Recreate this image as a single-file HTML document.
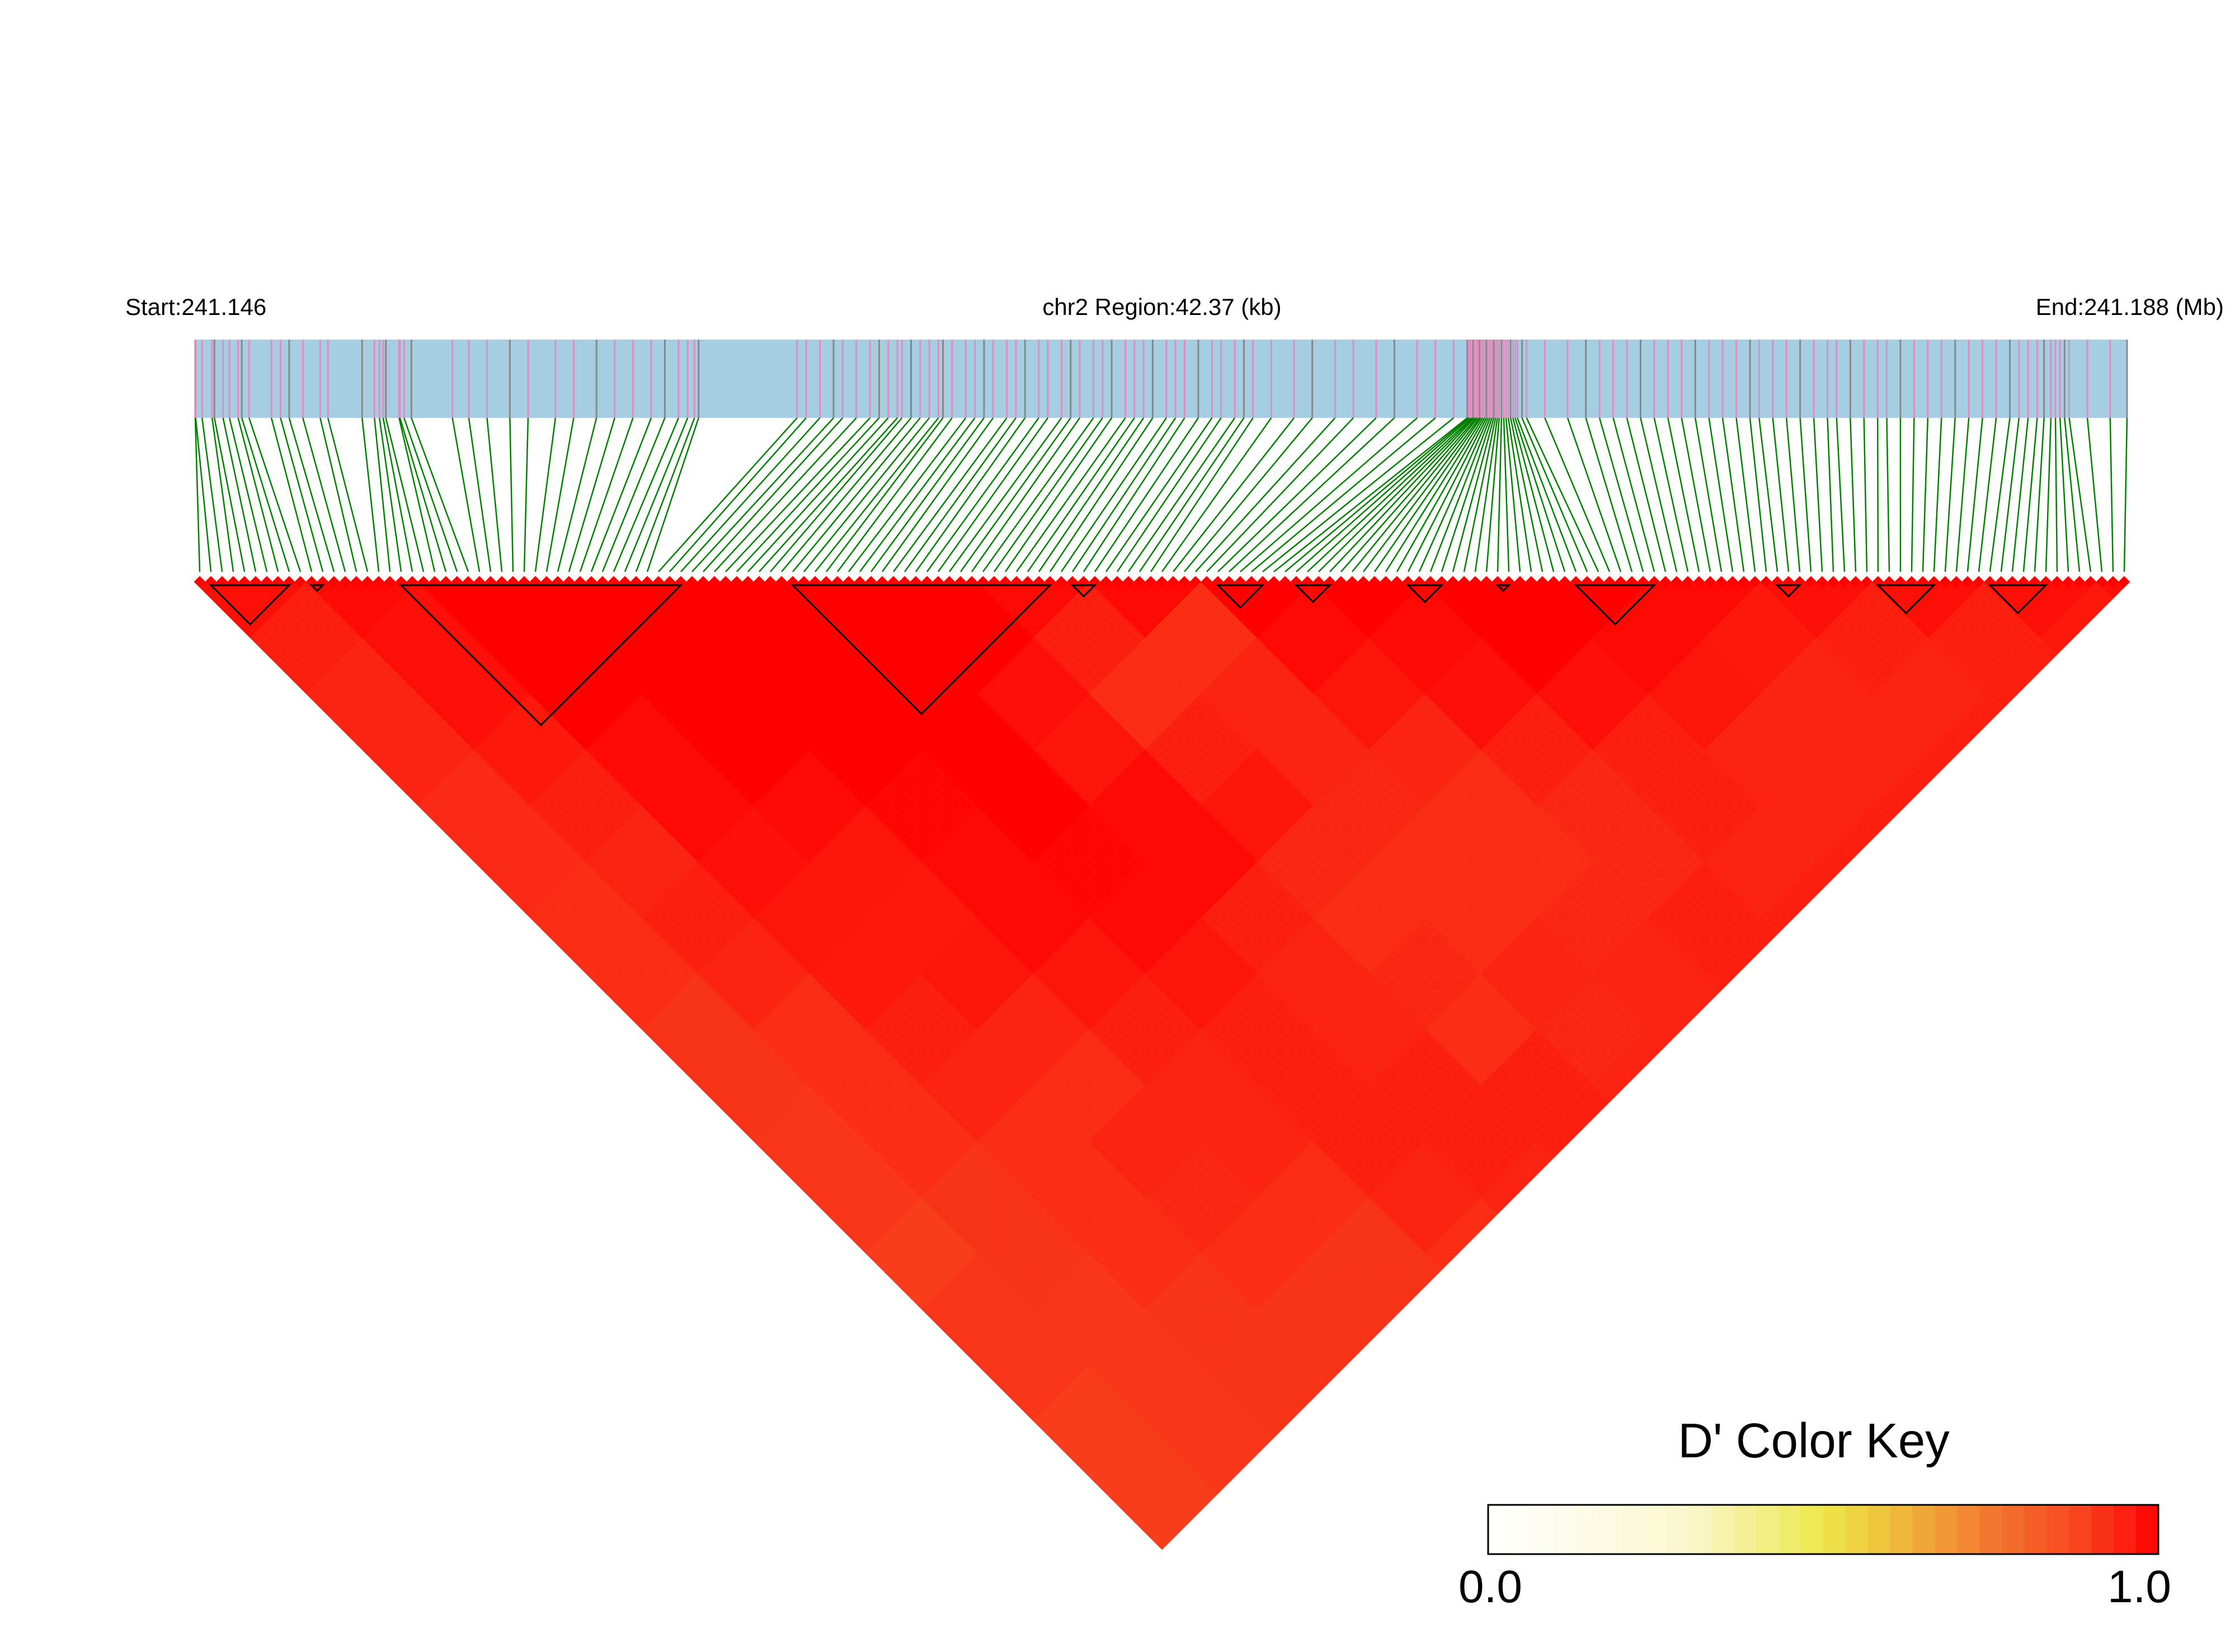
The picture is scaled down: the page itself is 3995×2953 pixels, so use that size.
<!DOCTYPE html>
<html><head><meta charset="utf-8"><style>html,body{margin:0;padding:0;background:#fff}svg{display:block}</style></head>
<body>
<svg id="chart" xmlns="http://www.w3.org/2000/svg" width="3995" height="2953" viewBox="0 0 3995 2953" font-family="Liberation Sans, Arial, sans-serif">
<rect width="3995" height="2953" fill="#fff"/>
<text x="224" y="563" font-size="42">Start:241.146</text>
<text x="2077" y="563" font-size="42" text-anchor="middle">chr2 Region:42.37 (kb)</text>
<text x="3975" y="563" font-size="42" text-anchor="end">End:241.188 (Mb)</text>
<rect x="349" y="607" width="3453" height="140" fill="#a6cee3"/>
<g id="ticks"></g>
<g id="links"></g>
<g id="cells"></g>
<g id="blocks"></g>
<text x="3242" y="2605" font-size="87" text-anchor="middle">D' Color Key</text>
<g id="key"></g>
<rect x="2660" y="2690" width="1198" height="88" fill="none" stroke="#000" stroke-width="3"/>
<text x="2607" y="2864" font-size="82">0.0</text>
<text x="3881" y="2864" font-size="82" text-anchor="end">1.0</text>
</svg>
<script>
// SNP positions (kb from region start)
const snpKb = [0,0.01,0.15,0.37,0.42,0.61,0.75,0.94,1.02,1.18,1.67,1.87,2.06,2.36,2.74,2.91,3.66,3.93,4.04,4.12,4.18,4.47,4.49,4.58,4.74,5.64,
6.0,6.4,6.9,7.3,7.9,8.3,8.8,9.2,9.6,10.0,10.3,10.6,10.8,10.95,11.04,
13.2,13.4,13.7,14.0,14.2,14.5,14.8,15.0,15.2,15.4,15.5,15.7,15.9,16.1,16.3,16.4,16.6,16.9,17.1,17.3,17.5,17.8,18.0,18.2,18.5,18.7,19.0,19.2,19.4,19.7,19.9,20.1,20.4,20.6,20.8,21.0,21.3,21.5,21.7,22.0,22.3,22.5,22.8,23.0,23.2,
23.6,24.1,24.5,25.0,25.4,25.9,26.3,26.8,27.2,27.6,
27.90,27.93,27.96,28.0,28.03,28.06,28.1,28.13,28.17,28.2,28.24,28.28,28.32,28.36,28.4,28.44,28.48,28.52,28.56,28.6,28.65,28.7,28.75,28.8,28.85,28.9,28.95,29.0,29.1,29.2,
29.6,30.1,30.5,30.8,31.1,31.4,31.7,32.0,32.3,32.6,32.9,33.2,33.5,33.8,34.1,34.3,34.6,34.9,35.2,35.5,35.8,36.0,36.3,36.6,36.9,37.1,37.4,37.7,38.0,38.3,38.6,38.9,39.2,39.5,39.8,40.0,40.2,40.4,40.55,40.7,40.8,40.9,41.0,41.1,41.5,42.0,42.37];
const regionKb = 42.37;
// Mean D' per group of 10 SNPs: dprimeBlocks[a][d] = group a vs group a+d
const dprimeBlocks = [
[.975,.95,.94,.94,.93,.93,.925,.925,.915,.915,.91,.91,.9,.91,.91,.9,.9,.9],
[.985,.975,.975,.96,.95,.94,.95,.94,.925,.925,.925,.915,.915,.91,.91,.91,.91],
[1,1,1,.985,.985,.975,.965,.96,.95,.94,.925,.925,.925,.915,.915,.915],
[1,1,1,1,.985,.965,.96,.965,.94,.925,.94,.935,.925,.915,.915],
[1,1,1,1,.99,.985,.985,.965,.95,.94,.94,.925,.915,.915],
[1,1,1,1,1,.99,.985,.965,.95,.95,.95,.94,.925],
[1,1,.975,.965,.985,.985,.95,.94,.94,.95,.95,.94],
[.985,.95,.925,.95,.965,.935,.925,.935,.925,.95,.95],
[.985,.925,.94,.94,.935,.925,.925,.94,.935,.94],
[1,.985,.965,.94,.925,.925,.935,.94,.94],
[1,.985,.975,.95,.935,.935,.95,.95],
[1,1,.975,.95,.95,.94,.95],
[1,.985,.965,.94,.94,.95],
[.985,.96,.94,.94,.95],
[.975,.95,.94,.95],
[.975,.95,.95],
[.975,.96],
[.975]];
// Haplotype blocks (first, last SNP index)
const blockStarts = [1,10,18,53,78,91,98,108,116,123,141,150,160];
const blockEnds   = [8,11,43,76,80,95,101,111,117,130,143,155,165];

const NS='http://www.w3.org/2000/svg';
const N = snpKb.length;
const barX0=349, barW=3453, barY0=607, barY1=747;
const triX0=347, triW=3460, triY0=1040;
const c = triW/N;
const xKb = k => barX0 + k/regionKb*barW;
const cellX = (i,j) => triX0 + (i+j+1)*c/2;
const cellY = (i,j) => triY0 + (j-i)*c/2;
function color(v){
  const stops=[[0,[255,255,255]],[0.3,[250,246,205]],[0.5,[237,232,74]],[0.6,[240,190,60]],[0.75,[242,120,48]],[0.9,[248,60,28]],[1,[255,0,0]]];
  for(let k=1;k<stops.length;k++){ if(v<=stops[k][0]){const a=stops[k-1],b=stops[k],t=(v-a[0])/(b[0]-a[0]);
    return 'rgb('+a[1].map((x,m)=>Math.round(x+(b[1][m]-x)*t)).join(',')+')';}}
  return 'rgb(255,0,0)';
}
function mk(tag,attrs,parent){const e=document.createElementNS(NS,tag);for(const k in attrs)e.setAttribute(k,attrs[k]);parent.appendChild(e);return e;}
const ticks=document.getElementById('ticks'), links=document.getElementById('links'), cells=document.getElementById('cells'), blocks=document.getElementById('blocks'), key=document.getElementById('key');
snpKb.forEach((k,i)=>{
  const x=xKb(k);
  const t=mk('line',{x1:x,x2:x,y1:barY0,y2:barY1,stroke:(i%4===0?'#888888':'#e08dc0'),'stroke-width':3},ticks);
  
  
  const l=mk('line',{x1:x,y1:barY1,x2:triX0+(i+0.5)*c,y2:1022,stroke:'#008000','stroke-width':2.5},links);
  
  
});
for(let i=0;i<N;i++){
  for(let j=i;j<N;j++){
    const a=Math.floor(i/10), b=Math.floor(j/10);
    const v = (i===j)?1:dprimeBlocks[a][b-a];
    const x=cellX(i,j), y=cellY(i,j), h=c/2;
    const p=mk('polygon',{points:`${x},${y-h} ${x+h},${y} ${x},${y+h} ${x-h},${y}`,fill:color(v),stroke:color(v),'stroke-width':0.6},cells);
    
    
  }
}
blockStarts.forEach((s,k)=>{
  const e=blockEnds[k];
  const xl=triX0+(s+0.5)*c, xr=triX0+(e+0.5)*c, ty=triY0+6;
  const ax=(xl+xr)/2, ay=ty+(xr-xl)/2;
  const p=mk('polygon',{points:`${xl},${ty} ${xr},${ty} ${ax},${ay}`,fill:'none',stroke:'#000','stroke-width':3},blocks);
  
  
});
const keyN=30, kx=2660, kw=1198;
for(let k=0;k<keyN;k++){
  const r=mk('rect',{x:kx+k*kw/keyN,y:2690,width:kw/keyN+1,height:88,fill:color((k+0.5)/keyN)},key);
  
  
}
</script>
</body></html>
